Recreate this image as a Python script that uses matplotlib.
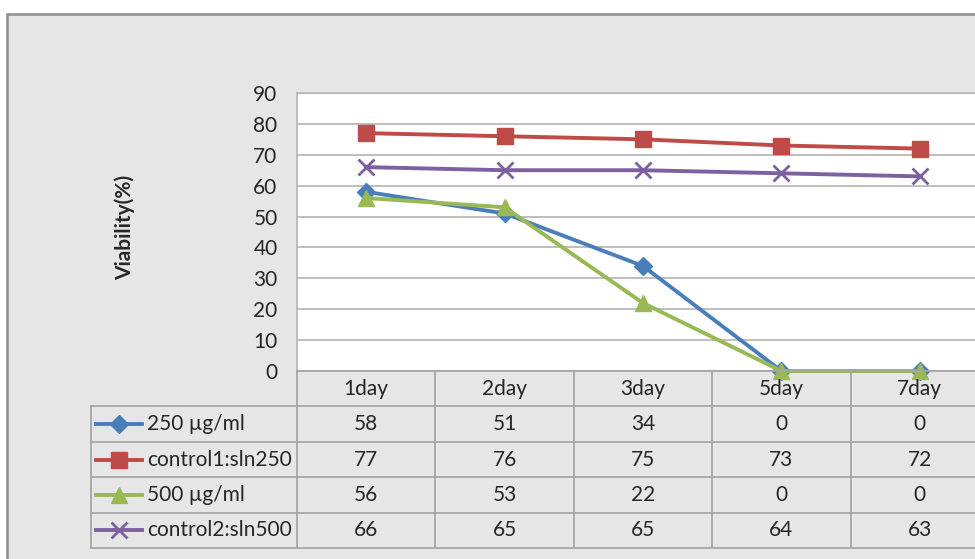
import matplotlib
matplotlib.use("Agg")
import matplotlib.pyplot as plt
from matplotlib.patches import Rectangle

days = ["1day", "2day", "3day", "5day", "7day"]
series_names = ["250 µg/ml", "control1:sln250", "500 µg/ml", "control2:sln500"]
conc_250 = [58, 51, 34, 0, 0]
control1 = [77, 76, 75, 73, 72]
conc_500 = [56, 53, 22, 0, 0]
control2 = [66, 65, 65, 64, 63]
y_ticks = [0, 10, 20, 30, 40, 50, 60, 70, 80, 90]

colors = ["#4A7EBB", "#BE4B48", "#98B954", "#7D60A0"]
markers = ["D", "s", "^", "x"]
msizes = [9, 11, 11, 11]

plt.rcParams["font.family"] = ["Lato", "DejaVu Sans"]
FS = 15
TXT = "#262626"
W, H = 975, 559
fig = plt.figure(figsize=(W / 100, H / 100), dpi=100)
fig.patch.set_facecolor("white")


def fx(px):
    return px / W


def fy(py):
    return 1 - py / H


# grey chart panel
fig.patches.append(Rectangle((fx(7), fy(580)), fx(1000), 580 / H - 14 / H,
                             transform=fig.transFigure, facecolor="#E6E6E6",
                             edgecolor="#8C8C8C", linewidth=1.8, zorder=-5))

# plot area
x0, x1 = 297, 989
top, bottom = 93, 371
ax = fig.add_axes([fx(x0), fy(bottom), fx(x1 - x0), (bottom - top) / H])
ax.set_facecolor("white")
ax.set_xlim(-0.5, 4.5)
ax.set_ylim(0, 90)
ax.set_yticks(y_ticks)
ax.yaxis.grid(True, color="#B9B9B9", linewidth=1.3)
ax.set_axisbelow(True)
ax.set_xticks([])
ax.tick_params(axis="y", length=0, pad=14, labelsize=FS, labelcolor=TXT)
for s in ["right", "bottom"]:
    ax.spines[s].set_visible(False)
for s in ["top", "left"]:
    ax.spines[s].set_color("#B9B9B9")
    ax.spines[s].set_linewidth(1.3)
fig.text(fx(125), fy(227), "Viability(%)", rotation=90, ha="center", va="center",
         fontsize=FS, fontweight="bold", color=TXT)

all_series = [conc_250, control1, conc_500, control2]
xs = list(range(len(days)))
for vals, c, m, ms in zip(all_series, colors, markers, msizes):
    ax.plot(xs, vals, color=c, linewidth=2.8, marker=m, markersize=ms,
            markeredgewidth=2 if m == "x" else 1, markeredgecolor=c,
            clip_on=False, zorder=3)

# data table
leg_w = 297 - 91
col_w = (x1 - x0) / 5
tbl_top, tbl_bottom = 371, 548
tx = fig.add_axes([fx(91), fy(tbl_bottom), fx(x1 - 91), (tbl_bottom - tbl_top) / H])
tx.set_xlim(-0.5 - leg_w / col_w, 4.5)
tx.set_ylim(5, 0)
tx.axis("off")
left = -0.5 - leg_w / col_w
line_c = "#A6A6A6"
tx.plot([-0.5, 4.5], [0, 0], color=line_c, lw=1.3, clip_on=False)
for r in range(1, 6):
    tx.plot([left, 4.5], [r, r], color=line_c, lw=1.3, clip_on=False)
tx.plot([left, left], [1, 5], color=line_c, lw=1.3, clip_on=False)
for k in range(5):
    tx.plot([k - 0.5, k - 0.5], [0, 5], color=line_c, lw=1.3, clip_on=False)
for k, d in enumerate(days):
    tx.text(k, 0.5, d, ha="center", va="center", fontsize=FS, color=TXT)
for r, (name, vals, c, m, ms) in enumerate(zip(series_names, all_series, colors, markers, msizes), start=1):
    kx0 = left + 5 / col_w
    kx1 = left + 51 / col_w
    tx.plot([kx0, kx1], [r + 0.5, r + 0.5], color=c, lw=2.8)
    tx.plot([(kx0 + kx1) / 2], [r + 0.5], color=c, marker=m, markersize=ms,
            markeredgewidth=2 if m == "x" else 1, markeredgecolor=c)
    tx.text(left + 56 / col_w, r + 0.5, name, ha="left", va="center",
            fontsize=FS, color=TXT)
    for k, v in enumerate(vals):
        tx.text(k, r + 0.5, str(v), ha="center", va="center", fontsize=FS,
                color=TXT)

fig.savefig("out.png", dpi=100, facecolor=fig.get_facecolor())
